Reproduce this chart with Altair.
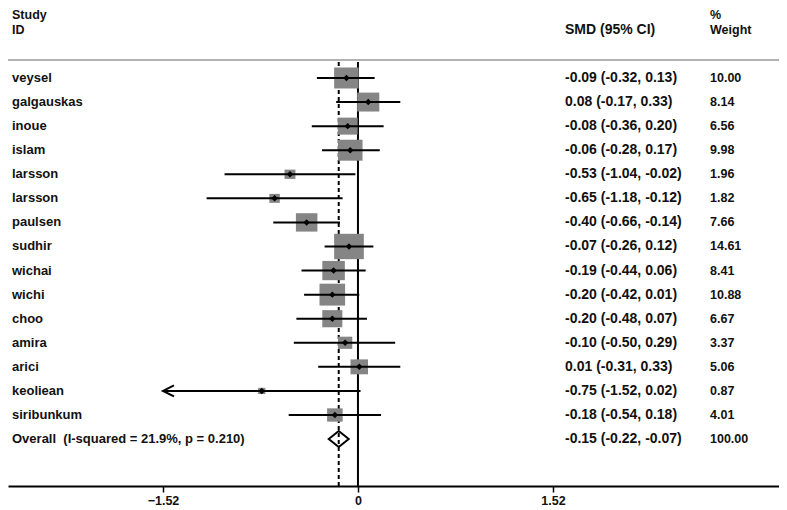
import altair as alt
import pandas as pd

studies = ["veysel", "galgauskas", "inoue", "islam", "larsson", "larsson", "paulsen",
           "sudhir", "wichai", "wichi", "choo", "amira", "arici", "keoliean", "siribunkum"]
smd = [-0.09, 0.08, -0.08, -0.06, -0.53, -0.65, -0.40, -0.07, -0.19, -0.20, -0.20, -0.10, 0.01, -0.75, -0.18]
ci_low = [-0.32, -0.17, -0.36, -0.28, -1.04, -1.18, -0.66, -0.26, -0.44, -0.42, -0.48, -0.50, -0.31, -1.52, -0.54]
ci_high = [0.13, 0.33, 0.20, 0.17, -0.02, -0.12, -0.14, 0.12, 0.06, 0.01, 0.07, 0.29, 0.33, 0.02, 0.18]
weights = [10.00, 8.14, 6.56, 9.98, 1.96, 1.82, 7.66, 14.61, 8.41, 10.88, 6.67, 3.37, 5.06, 0.87, 4.01]

overall_label = "Overall \u00a0(I-squared = 21.9%, p = 0.210)"
overall_smd = -0.15
overall_low = -0.22
overall_high = -0.07
overall_weight = 100.00

tick_values = [-1.52, 0, 1.52]
x_domain = [-2.728, 3.282]
y_domain = [-1.700, 17.95]

W, H = 771, 473
PAD_T, PAD_B = 5, 22
FONT = "Liberation Sans"
TXT = "#111111"

def f2(v):
    return f"{v:.2f}"

rows = list(range(1, len(studies) + 1))
df = pd.DataFrame({"study": studies, "row": rows, "smd": smd, "lo": ci_low,
                   "hi": ci_high, "weight": weights})
df["ci_text"] = [f"{f2(e)} ({f2(l)}, {f2(h)})" for e, l, h in zip(smd, ci_low, ci_high)]
df["w_text"] = [f2(w) for w in weights]

ov = pd.DataFrame({"study": [overall_label], "row": [len(studies) + 1], "smd": [overall_smd],
                   "lo": [overall_low], "hi": [overall_high], "weight": [overall_weight]})
ov["ci_text"] = [f"{f2(overall_smd)} ({f2(overall_low)}, {f2(overall_high)})"]
ov["w_text"] = [f2(overall_weight)]
alltab = pd.concat([df, ov], ignore_index=True)

xs = alt.Scale(domain=x_domain, nice=False, zero=False)
ys = alt.Scale(domain=y_domain, reverse=True, nice=False, zero=False)
xaxis = alt.Axis(values=tick_values, format=".2~f", title=None, grid=False,
                 domainColor="black", domainWidth=2, tickColor="black", tickWidth=1.5,
                 tickSize=6, labelFont=FONT, labelFontWeight="bold", labelFontSize=12.5,
                 labelColor=TXT, labelPadding=2)

one = pd.DataFrame({"k": [0]})
TOP = 47  # separator line (plot px)

zero_line = alt.Chart(one).mark_rule(color="black", strokeWidth=2).encode(
    x=alt.X(datum=0, scale=xs, axis=xaxis), y=alt.value(TOP + 2), y2=alt.value(H))
ov_line = alt.Chart(one).mark_rule(color="black", strokeWidth=2, strokeDash=[4, 3]).encode(
    x=alt.X(datum=overall_smd, scale=xs, axis=xaxis), y=alt.value(TOP + 2), y2=alt.value(H))

sep = alt.Chart(one).mark_rule(color="#9a9a9a", strokeWidth=1.5).encode(
    x=alt.value(0), x2=alt.value(W), y=alt.value(TOP))

boxes = alt.Chart(df).mark_point(
    shape="M-1.17,-1L1.17,-1L1.17,1L-1.17,1Z", filled=True, color="#858585", opacity=1
).encode(
    x=alt.X("smd:Q", scale=xs, axis=xaxis),
    y=alt.Y("row:Q", scale=ys, axis=None),
    size=alt.Size("weight:Q", scale=alt.Scale(type="linear", domain=[0, 15], range=[0, 661]),
                  legend=None),
)

bars = alt.Chart(df).mark_rule(color="black", strokeWidth=2).encode(
    x=alt.X("lo:Q", scale=xs, axis=xaxis), x2="hi:Q",
    y=alt.Y("row:Q", scale=ys, axis=None),
)

arrows = alt.Chart(df).transform_filter(alt.datum.lo <= tick_values[0]).mark_point(
    shape="M2,-1L0,0L2,1", filled=False, color="black", strokeWidth=2, size=121, opacity=1
).encode(
    x=alt.X("lo:Q", scale=xs, axis=xaxis),
    y=alt.Y("row:Q", scale=ys, axis=None),
)

dots = alt.Chart(df).mark_point(shape="diamond", filled=True, color="black", size=42, opacity=1).encode(
    x=alt.X("smd:Q", scale=xs, axis=xaxis),
    y=alt.Y("row:Q", scale=ys, axis=None),
)

diamond = alt.Chart(ov).mark_point(
    shape="M-1,0L0,-0.8L1,0L0,0.8Z", filled=False, color="black", strokeWidth=2, size=400, opacity=1
).encode(
    x=alt.X("smd:Q", scale=xs, axis=xaxis),
    y=alt.Y("row:Q", scale=ys, axis=None),
)

def col_text(xpix, field, size):
    return alt.Chart(alltab).mark_text(
        align="left", baseline="middle", font=FONT, fontSize=size, fontWeight="bold", color=TXT
    ).encode(x=alt.value(xpix), y=alt.Y("row:Q", scale=ys, axis=None), text=f"{field}:N")

study_col = col_text(4, "study", 13)
ci_col = col_text(557, "ci_text", 14)
w_col = col_text(702, "w_text", 12.5)

def header(label, xpix, ypix, size):
    return alt.Chart(pd.DataFrame({"t": [label]})).mark_text(
        align="left", baseline="middle", font=FONT, fontSize=size, fontWeight="bold", color=TXT
    ).encode(x=alt.value(xpix), y=alt.value(ypix), text="t:N")

headers = [header("Study", 4, 2, 12.5), header("ID", 4, 17, 12.5),
           header("SMD (95% CI)", 557, 17, 14),
           header("%", 702, 2, 12.5), header("Weight", 702, 17, 12.5)]

chart = alt.layer(
    zero_line, ov_line, sep, boxes, bars, arrows, dots, diamond,
    study_col, ci_col, w_col, *headers
).properties(
    width=W, height=H, autosize=alt.AutoSizeParams(type="none"),
    padding={"left": 0, "top": PAD_T, "right": 0, "bottom": PAD_B},
    background="white"
).configure_view(strokeWidth=0)

chart.save("out.html", embed_options={"renderer": "svg", "actions": False})
